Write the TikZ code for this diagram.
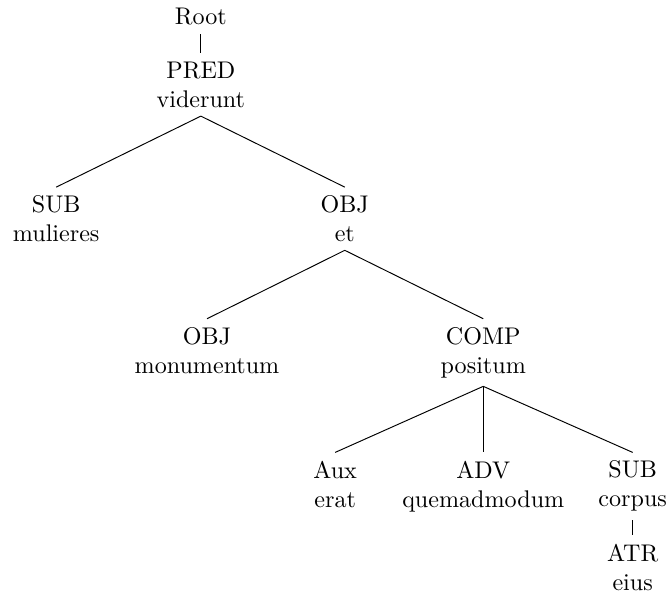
\documentclass[tikz,border=0pt]{standalone}
\usepackage{tikz}

\tikzset{
	word/.style={align=center, anchor=north},
	branch/.style={thin}
}

\begin{document}
\begin{tikzpicture}
				\useasboundingbox (0, 0) rectangle (9.76, -8.65);
				
				\node[word] (root) at (2.93, 0) {Root};
				\node[word] (pred) at (2.93, -0.78) {PRED\\viderunt};
				
				\node[word] (sub) at (0.82, -2.73) {SUB\\mulieres};
				\node[word] (obj) at (5.03, -2.73) {OBJ\\et};
				
				\node[word] (objb) at (3.02, -4.65) {OBJ\\monumentum};
				\node[word] (comp) at (7.05, -4.65) {COMP\\positum};
				
				\node[word] (aux) at (4.89, -6.60) {Aux\\erat};
				\node[word] (adv) at (7.05, -6.60) {ADV\\quemadmodum};
				\node[word] (subb) at (9.23, -6.60) {SUB\\corpus};
				
				\node[word] (atr) at (9.23, -7.81) {ATR\\eius};
				
				\draw[branch] (root.south) -- (pred.north);
				\draw[branch] (pred.south) -- (sub.north);
				\draw[branch] (pred.south) -- (obj.north);
				\draw[branch] (obj.south) -- (objb.north);
				\draw[branch] (obj.south) -- (comp.north);
				\draw[branch] (comp.south) -- (aux.north);
				\draw[branch] (comp.south) -- (adv.north);
				\draw[branch] (comp.south) -- (subb.north);
				\draw[branch] (subb.south) -- (atr.north);
			\end{tikzpicture}
\end{document}
